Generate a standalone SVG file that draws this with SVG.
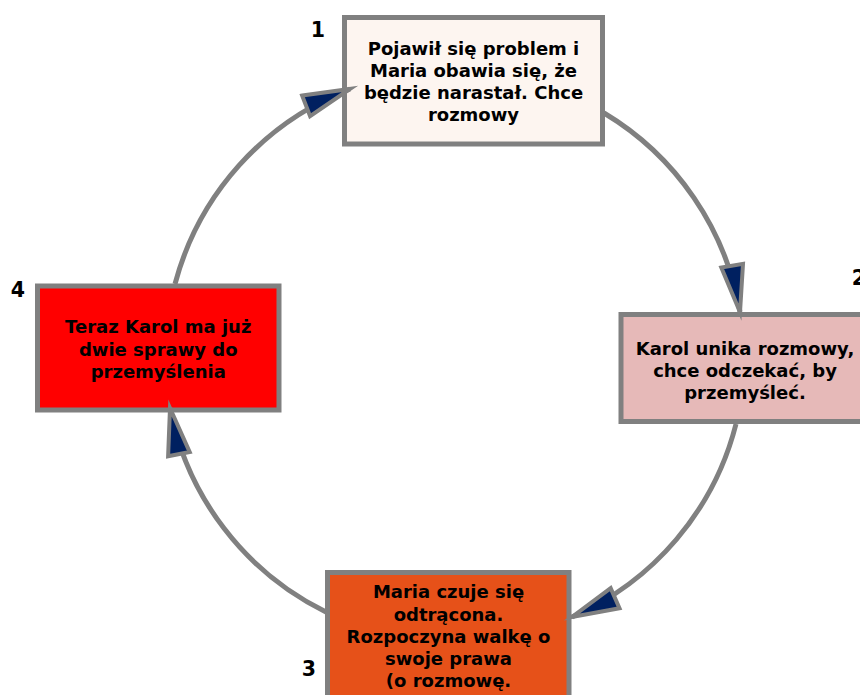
<svg xmlns="http://www.w3.org/2000/svg" width="860" height="695" viewBox="0 0 860 695">
<style>
.box{stroke:#808080;stroke-width:5}
.t{font-family:"DejaVu Sans",Verdana,sans-serif;font-weight:bold;font-size:18px;fill:#000;text-anchor:middle}
.n{font-family:"DejaVu Sans",Verdana,sans-serif;font-weight:bold;font-size:20.5px;fill:#000;text-anchor:middle}
.c{fill:none;stroke:#808080;stroke-width:5}
</style>
<defs>
<marker id="ah" markerUnits="userSpaceOnUse" markerWidth="60" markerHeight="40" refX="0" refY="0" orient="auto" overflow="visible">
<path d="M-47,-11 L0,0 L-47,11 Z" fill="#002060" stroke="#808080" stroke-width="4" stroke-linejoin="miter" stroke-miterlimit="10"/>
</marker>
</defs>
<rect width="860" height="695" fill="#fff"/>
<g id="node1">
<rect class="box" x="344.5" y="17.5" width="258" height="126.5" fill="#FDF5F0"/>
<text class="t" x="473.5" y="55">Pojawił się problem i</text>
<text class="t" x="473.5" y="77">Maria obawia się, że</text>
<text class="t" x="473.5" y="99">będzie narastał. Chce</text>
<text class="t" x="473.5" y="121">rozmowy</text>
<text class="n" x="318" y="37">1</text>
</g>
<g id="node2">
<rect class="box" x="621" y="314.5" width="248" height="107" fill="#E6B9B8"/>
<text class="t" x="745" y="355">Karol unika rozmowy,</text>
<text class="t" x="745" y="377">chce odczekać, by</text>
<text class="t" x="745" y="399">przemyśleć.</text>
<text class="n" x="859" y="285">2</text>
</g>
<g id="node3">
<rect class="box" x="327.5" y="572.5" width="241.5" height="140" fill="#E65119"/>
<text class="t" x="448.5" y="598">Maria czuje się</text>
<text class="t" x="448.5" y="620.5">odtrącona.</text>
<text class="t" x="448.5" y="642.5">Rozpoczyna walkę o</text>
<text class="t" x="448.5" y="665">swoje prawa</text>
<text class="t" x="448.5" y="687">(o rozmowę.</text>
<text class="n" x="309" y="676">3</text>
</g>
<g id="node4">
<rect class="box" x="37.5" y="286" width="241.5" height="124" fill="#FF0000"/>
<text class="t" x="158.25" y="333">Teraz Karol ma już</text>
<text class="t" x="158.25" y="355.5">dwie sprawy do</text>
<text class="t" x="158.25" y="378">przemyślenia</text>
<text class="n" x="18" y="297">4</text>
</g>
<g id="connectors">
<path class="c" d="M175,284 A288,288 0 0 1 350,89" marker-end="url(#ah)"/>
<path class="c" d="M604,113 A288,288 0 0 1 740,312" marker-end="url(#ah)"/>
<path class="c" d="M736,424 A288,288 0 0 1 572,617" marker-end="url(#ah)"/>
<path class="c" d="M326,612 A288,288 0 0 1 170,408" marker-end="url(#ah)"/>
</g>
</svg>
